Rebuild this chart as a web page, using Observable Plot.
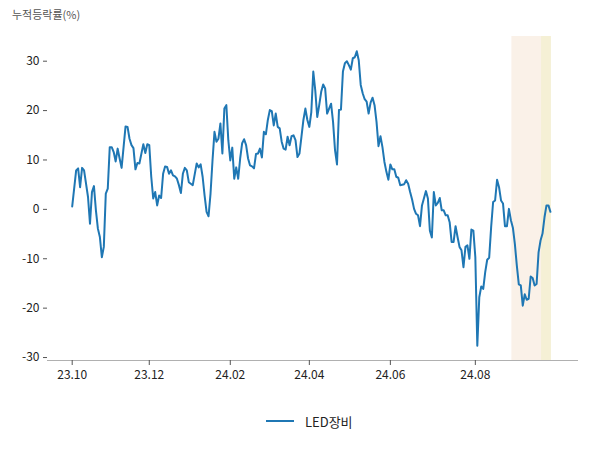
<!DOCTYPE html>
<html>
<head>
<meta charset="utf-8">
<script src="https://cdn.jsdelivr.net/npm/d3@7"></script>
<script src="https://cdn.jsdelivr.net/npm/@observablehq/plot@0.6"></script>
<style>
  html, body { margin: 0; padding: 0; background: #fff; }
  #wrap { position: relative; width: 600px; height: 450px; font-family: "Noto Sans CJK KR", "Noto Sans", sans-serif; }
  #title { position: absolute; left: 12px; top: 6px; font-size: 11px; color: #555; line-height: 16px; }
  #legend { position: absolute; left: 0; top: 410px; width: 600px; height: 22px; font-size: 13px; color: #222; }
  #legend .item { position: absolute; left: 266px; top: 0; display: flex; align-items: center; height: 22px; }
  #legend .lbl { margin-left: 11px; }
</style>
</head>
<body>
<div id="wrap">
  <div id="chart"></div>
  <div id="title">누적등락률(%)</div>
  <div id="legend"></div>
</div>
<script>
// trading-day index of each reading and cumulative change (%)
const dayIdx = [0,2,3,4,5,6,8,9,10,11,12,13,14,15,16,17,18,19,20,21,22,23,24,25,26,27,28,29,30,31,32,33,34,36,37,38,39,40,41,42,43,44,45,46,47,48,49,50,51,52,53,54,55,56,57,58,59,60,61,63,64,65,66,67,68,69,70,71,72,73,74,75,76,77,78,79,80,81,82,83,84,85,86,87,88,89,90,91,92,93,94,95,96,97,98,99,100,101,102,103,104,105,106,107,108,109,110,111,112,113,114,115,116,117,118,119,120,121,122,123,124,125,126,127,128,129,130,131,132,133,134,135,136,137,138,139,140,141,142,143,144,145,146,147,148,149,150,151,152,153,154,155,156,157,158,159,160,161,162,163,164,165,166,167,168,169,170,171,172,173,174,175,176,177,179,180,181,182,183,184,185,186,187,188,189,190,191,192,193,194,195,196,197,198,199,200,201,202,203,204,205,206,207,208,209,210,211,212,213,214,215,216,217,218,219,220,221,222,223,224,225,226,227,228,229,230,231,232,233,234,235,236,237,238,239,240,241,242];
const ledValues = [0.6,7.9,8.3,4.5,8.4,7.9,2.5,-2.9,3.5,4.7,-0.2,-3.9,-5.6,-9.7,-7.6,3.2,4.2,12.6,12.6,11.6,9.7,12.3,10.3,8.4,12.6,16.8,16.7,14.3,13.0,12.4,8.1,9.4,9.3,13.2,11.4,13.2,13.0,6.6,2.2,3.5,0.8,2.8,2.3,7.2,8.7,8.6,7.2,7.9,6.9,6.7,6.2,4.9,3.3,7.2,8.4,7.9,5.5,5.2,4.9,9.3,8.5,9.1,6.6,2.8,-0.5,-1.4,3.2,9.9,15.7,13.7,14.3,17.4,11.3,20.4,21.1,14.0,9.9,12.5,6.2,8.5,6.2,10.3,13.4,14.2,13.0,10.3,8.9,8.7,8.3,11.2,11.3,12.3,10.5,15.7,15.2,18.1,20.1,19.9,17.0,19.4,16.7,16.4,13.7,12.3,12.1,14.7,13.0,14.8,15.0,14.0,10.6,11.3,14.7,18.1,20.4,18.1,16.7,19.7,27.9,24.1,18.7,21.1,23.8,25.3,24.5,19.4,20.4,21.4,17.7,12.0,9.1,20.1,20.2,27.9,29.6,30.0,29.2,28.3,30.6,30.8,32.0,30.2,25.2,23.5,22.3,21.8,19.4,21.6,22.6,21.1,17.7,12.8,14.8,12.6,9.6,7.6,6.0,9.1,8.1,8.1,6.6,6.4,4.9,5.0,5.1,5.9,5.2,3.5,2.0,0.1,-0.9,-1.2,-3.4,0.8,3.7,2.2,-4.3,-5.7,3.5,0.8,1.3,2.3,-0.2,-0.2,-1.2,-1.2,-2.6,-6.6,-6.6,-3.4,-5.6,-7.6,-8.3,-11.7,-7.6,-7.3,-10.0,-4.1,-4.3,-9.7,-27.6,-17.8,-15.6,-16.1,-12.7,-10.2,-9.8,-3.6,1.5,1.8,6.0,4.5,1.8,1.2,-3.4,-3.4,0.1,-2.2,-3.7,-7.0,-11.4,-15.2,-15.4,-19.5,-17.2,-18.3,-18.1,-13.6,-13.9,-15.4,-15.1,-8.7,-6.3,-4.9,-1.6,0.8,0.8,-0.5];
const seriesName = "LED장비";

// x tick positions (trading-day index) and labels
const xTickIdx = [0, 39, 80, 120, 161, 204];
const xTickLabels = ["23.10", "23.12", "24.02", "24.04", "24.06", "24.08"];
const yTicks = [-30, -20, -10, 0, 10, 20, 30];

// shaded periods (first and last trading-day index)
const bandStart = [223, 238];
const bandEnd = [237, 242];
const bandColors = ["#faf1e8", "#f5f0d5"];

const lineColor = "#1f77b4";

const rows = dayIdx.map((d, i) => ({ x: d, y: ledValues[i] }));
const bands = bandStart.map((s, i) => ({ s, e: bandEnd[i], c: bandColors[i] }));

const chart = Plot.plot({
  width: 600,
  height: 400,
  marginLeft: 47,
  marginRight: 23,
  marginTop: 36,
  marginBottom: 40,
  style: { fontFamily: "'Noto Sans CJK KR', 'Noto Sans', sans-serif", fontSize: "12px", color: "#222", background: "white" },
  x: { type: "linear", domain: [-12.5, 255.7], label: null },
  y: { domain: [-30.6, 35], label: null },
  marks: [
    Plot.rect(bands, { x1: d => d.s - 0.5, x2: d => d.e + 0.5, fill: d => d.c }),
    Plot.frame({ anchor: "bottom", stroke: "#b0b0b0" }),
    Plot.axisX({ ticks: xTickIdx, tickFormat: d => xTickLabels[xTickIdx.indexOf(d)], tickSize: 5, tickPadding: 5, stroke: "#555", fontSize: 12, fill: "#222", label: null }),
    Plot.axisY({ ticks: yTicks, tickFormat: d => String(d), tickSize: 4, tickPadding: 4, stroke: "#555", fontSize: 12, fill: "#222", label: null }),
    Plot.line(rows, { x: "x", y: "y", stroke: lineColor, strokeWidth: 2, strokeLinejoin: "round" })
  ]
});
document.getElementById("chart").appendChild(chart);

const leg = document.getElementById("legend");
leg.innerHTML = `<div class="item"><svg width="28" height="4"><line x1="0" y1="2" x2="28" y2="2" stroke="${lineColor}" stroke-width="2"/></svg><span class="lbl">${seriesName}</span></div>`;
</script>
</body>
</html>
